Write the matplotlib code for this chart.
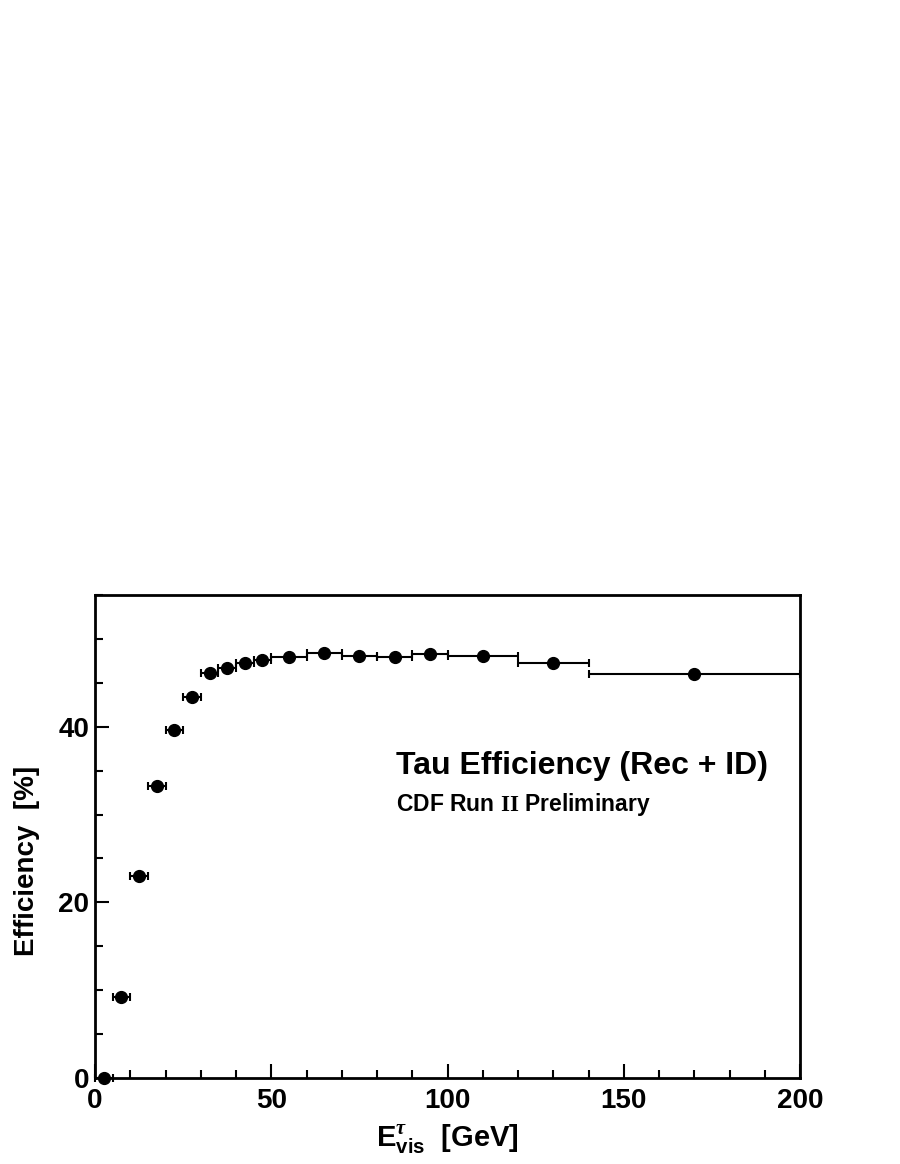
import numpy as np
import matplotlib
matplotlib.use("Agg")
import matplotlib.pyplot as plt
from matplotlib.ticker import MultipleLocator

# fontes tipo Helvetica em negrito (estilo ROOT)
plt.rcParams['font.family'] = ['Liberation Sans', 'DejaVu Sans']
plt.rcParams['font.weight'] = 'bold'
plt.rcParams['mathtext.fontset'] = 'custom'
plt.rcParams['mathtext.rm'] = 'Liberation Serif'
plt.rcParams['mathtext.it'] = 'Liberation Serif:italic'
plt.rcParams['mathtext.bf'] = 'Liberation Sans:bold'

# Bordas dos bins em E_vis (GeV) e eficiencia (%)
bordas_inf = [0, 5, 10, 15, 20, 25, 30, 35, 40, 45, 50, 60, 70, 80, 90, 100, 120, 140]
bordas_sup = [5, 10, 15, 20, 25, 30, 35, 40, 45, 50, 60, 70, 80, 90, 100, 120, 140, 200]
eficiencia = [0.0, 9.2, 23.0, 33.2, 39.6, 43.4, 46.1, 46.7, 47.3, 47.6,
              48.0, 48.4, 48.1, 48.0, 48.3, 48.1, 47.3, 46.0]

bordas_inf = np.array(bordas_inf, dtype=float)
bordas_sup = np.array(bordas_sup, dtype=float)
centros = (bordas_inf + bordas_sup) / 2
meia_largura = (bordas_sup - bordas_inf) / 2

fig = plt.figure(figsize=(9, 11.64), dpi=100)
ax = fig.add_axes([0.1056, 0.0739, 0.7833, 0.4149])

ax.errorbar(centros, eficiencia, xerr=meia_largura, fmt='o', color='black',
            markersize=8.5, elinewidth=1.5, capsize=3, capthick=1.5, clip_on=False)

ax.set_xlim(0, 200)
ax.set_ylim(0, 55)

ax.xaxis.set_major_locator(MultipleLocator(50))
ax.xaxis.set_minor_locator(MultipleLocator(10))
ax.yaxis.set_major_locator(MultipleLocator(20))
ax.yaxis.set_minor_locator(MultipleLocator(5))
ax.tick_params(which='both', direction='in', width=1.5, top=False, right=False)
ax.tick_params(which='major', length=10, labelsize=20)
ax.tick_params(axis='x', which='major', pad=7)
ax.tick_params(axis='y', which='major', pad=4)
ax.tick_params(which='minor', length=6)
for lado in ax.spines.values():
    lado.set_linewidth(2)

ax.set_xlabel(r"$\mathbf{E}^{\tau}_{\mathbf{vis}}$  [GeV]", fontsize=21, fontweight='bold')
ax.set_ylabel("Efficiency  [%]", fontsize=20, fontweight='bold')
ax.xaxis.set_label_coords(0.5, -0.092)
ax.yaxis.set_label_coords(-0.078, 0.45)

ax.text(0.427, 0.647, "Tau Efficiency (Rec + ID)", transform=ax.transAxes,
        fontsize=23, fontweight='bold', ha='left', va='center')
ax.text(0.427, 0.567, r"CDF Run $\mathrm{II}$ Preliminary", transform=ax.transAxes,
        fontsize=16.5, fontweight='bold', ha='left', va='center')

fig.savefig("out.png", dpi=100)
